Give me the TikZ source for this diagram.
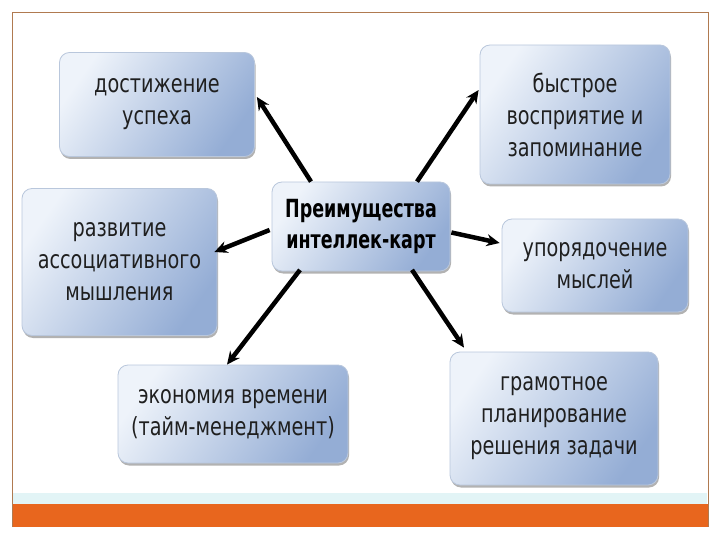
\documentclass[tikz,border=0pt]{standalone}
\usepackage{fontspec}
\setmainfont{DejaVu Sans}[FakeStretch=0.77]
\newfontfamily\centerfont{DejaVu Sans}[FakeStretch=0.7]
\usetikzlibrary{arrows.meta,calc,shadows}
\definecolor{frameline}{HTML}{B07A50}
\definecolor{barorange}{HTML}{E8661E}
\definecolor{stripcyan}{HTML}{E2F4F6}
\definecolor{boxlight}{HTML}{EEF3FA}
\definecolor{boxdark}{HTML}{94ADD5}
\definecolor{boxedge}{HTML}{B9C7DC}
\tikzset{
  box/.style={rectangle, rounded corners=10pt, draw=boxedge, line width=0.8pt,
    left color=boxlight, right color=boxdark, shading angle=55,
    general shadow={fill=black!30, shadow xshift=1pt, shadow yshift=-2.5pt},
    align=center, font=\fontsize{25}{32}\selectfont, text=black!88, inner sep=2pt},
  arr/.style={-{Stealth[length=13pt,width=12pt]}, line width=4.5pt, black}
}
\begin{document}
\begin{tikzpicture}[x=1pt,y=1pt]
\useasboundingbox (0,0) rectangle (720,-540);
% frame
\fill[stripcyan] (13,-493) rectangle (707,-504);
\fill[barorange] (12,-504) rectangle (708,-527);
\draw[frameline, line width=0.8pt] (12,-527) -- (12,-12) -- (708,-12) -- (708,-527);
% boxes
\node[box, minimum width=195pt, minimum height=104pt] (b1) at (157,-104.5) {достижение\\успеха};
\node[box, minimum width=190pt, minimum height=139pt] (b2) at (575,-114.5) {быстрое\\восприятие и\\запоминание};
\node[box, minimum width=195pt, minimum height=147pt] (b3) at (119.5,-262) {развитие\\ассоциативного\\мышления};
\node[box, minimum width=186pt, minimum height=93pt] (b4) at (595,-265.5) {упорядочение\\мыслей};
\node[box, minimum width=230pt, minimum height=98pt] (b5) at (233,-414) {экономия времени\\(тайм-менеджмент)};
\node[box, minimum width=208pt, minimum height=133pt] (b6) at (554,-418.5) {грамотное\\планирование\\решения задачи};
\node[box, minimum width=178pt, minimum height=89pt, font=\centerfont\fontsize{25}{31}\selectfont\bfseries, text=black] (c) at (361,-226.5) {Преимущества\\интеллек-карт};
% arrows
\draw[arr] ($(c.north)+(-50,0)$) -- ($(b1.east)+(2,7.5)$);
\draw[arr] ($(c.north)+(56,0)$) -- ($(b2.west)+(-1,24.5)$);
\draw[arr] ($(c.west)+(-2,-3.5)$) -- ($(b3.east)+(-3,10)$);
\draw[arr] ($(c.east)+(1,-6)$) -- ($(b4.west)+(-2,22.5)$);
\draw[arr] ($(c.south)+(-61,1.5)$) -- ($(b5.north)+(-6,0)$);
\draw[arr] ($(c.south)+(51,1.5)$) -- ($(b6.north)+(-90,4)$);
\end{tikzpicture}
\end{document}
